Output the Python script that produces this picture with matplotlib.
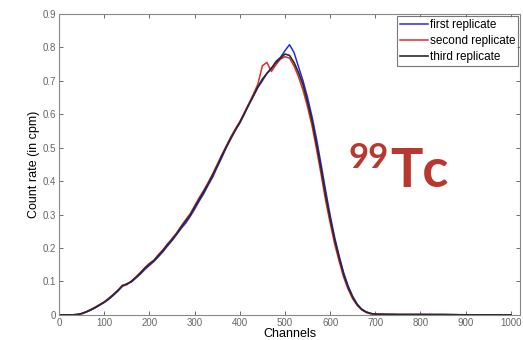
import matplotlib.pyplot as plt
import numpy as np

# channel positions and count rates (cpm)
channels = [0, 10, 20, 30, 40, 50, 60, 70, 80, 90,
            100, 110, 120, 130, 140, 150, 160, 170, 180, 190,
            200, 210, 220, 230, 240, 250, 260, 270, 280, 290,
            300, 310, 320, 330, 340, 350, 360, 370, 380, 390,
            400, 410, 420, 430, 440, 450, 460, 470, 480, 490,
            500, 510, 520, 530, 540, 550, 560, 570, 580, 590,
            600, 610, 620, 630, 640, 650, 660, 670, 680, 690,
            700, 750, 800, 850, 900, 950, 1000]

first_rep = [0, 0, 0, 0, 0.001, 0.003, 0.008, 0.014, 0.021, 0.029,
             0.037, 0.047, 0.058, 0.071, 0.085, 0.093, 0.098, 0.110, 0.122, 0.136,
             0.148, 0.160, 0.174, 0.189, 0.206, 0.222, 0.240, 0.258, 0.274, 0.294,
             0.316, 0.340, 0.362, 0.388, 0.412, 0.442, 0.470, 0.500, 0.526, 0.552,
             0.574, 0.600, 0.630, 0.654, 0.680, 0.700, 0.722, 0.736, 0.758, 0.770,
             0.790, 0.808, 0.785, 0.742, 0.700, 0.650, 0.592, 0.525, 0.450, 0.372,
             0.298, 0.232, 0.176, 0.126, 0.086, 0.055, 0.032, 0.017, 0.009, 0.004,
             0.002, 0.001, 0.001, 0.001, 0, 0, 0]

second_rep = [0, 0, 0, 0, 0.001, 0.004, 0.009, 0.016, 0.023, 0.031,
              0.039, 0.050, 0.061, 0.074, 0.086, 0.090, 0.101, 0.113, 0.127, 0.141,
              0.154, 0.164, 0.180, 0.195, 0.212, 0.228, 0.245, 0.265, 0.284, 0.302,
              0.326, 0.350, 0.372, 0.396, 0.422, 0.450, 0.478, 0.505, 0.532, 0.556,
              0.578, 0.605, 0.632, 0.660, 0.690, 0.745, 0.755, 0.728, 0.748, 0.765,
              0.772, 0.768, 0.745, 0.712, 0.672, 0.622, 0.565, 0.495, 0.420, 0.342,
              0.275, 0.212, 0.160, 0.112, 0.076, 0.048, 0.028, 0.015, 0.007, 0.003,
              0.002, 0.001, 0.001, 0, 0, 0, 0]

third_rep = [0, 0, 0, 0, 0.001, 0.004, 0.009, 0.015, 0.022, 0.030,
             0.038, 0.048, 0.060, 0.072, 0.088, 0.092, 0.100, 0.112, 0.125, 0.140,
             0.152, 0.162, 0.178, 0.192, 0.210, 0.225, 0.242, 0.262, 0.280, 0.298,
             0.322, 0.345, 0.368, 0.392, 0.418, 0.445, 0.475, 0.502, 0.528, 0.552,
             0.575, 0.602, 0.628, 0.655, 0.682, 0.705, 0.722, 0.738, 0.755, 0.768,
             0.780, 0.776, 0.755, 0.725, 0.688, 0.636, 0.580, 0.510, 0.436, 0.358,
             0.288, 0.224, 0.170, 0.120, 0.082, 0.052, 0.030, 0.016, 0.008, 0.004,
             0.002, 0.001, 0.001, 0.001, 0, 0, 0]

plt.rcParams['font.family'] = ['Liberation Sans', 'DejaVu Sans']

fig = plt.figure(figsize=(5.23, 3.40), dpi=100)
ax = fig.add_axes([0.113, 0.074, 0.881, 0.885])

ax.plot(channels, first_rep, color='#2a2ae0', lw=1.1, label='first replicate')
ax.plot(channels, second_rep, color='#e02a2a', lw=1.1, label='second replicate')
ax.plot(channels, third_rep, color='#2a2a2a', lw=1.2, label='third replicate')

ax.set_xlim(0, 1020)
ax.set_ylim(0, 0.9)
ax.set_xticks(np.arange(0, 1001, 100))
ax.set_yticks(np.arange(0, 0.91, 0.1))
ax.set_yticklabels(['0'] + ['%.1f' % v for v in np.arange(0.1, 0.91, 0.1)])
ax.tick_params(direction='in', top=True, right=True, length=3, width=0.6,
               labelsize=7, colors='#555555', labelcolor='#666666', pad=2)
for s in ax.spines.values():
    s.set_color('#888888')
    s.set_linewidth(0.8)

ax.set_xlabel('Channels', fontsize=9, labelpad=0)
ax.set_ylabel('Count rate (in cpm)', fontsize=9, labelpad=2)

leg = ax.legend(loc='upper right', fontsize=8.5, frameon=True, fancybox=False,
                borderaxespad=0.15, handlelength=2.4, handletextpad=0.1,
                labelspacing=0.35, borderpad=0.25)
leg.get_frame().set_edgecolor('#555555')
leg.get_frame().set_linewidth(0.8)

fig.text(348 / 523, 1 - 168 / 340, '99', fontsize=25, fontweight='bold',
         color='#b8372e', family='Lato', va='baseline', ha='left')
fig.text(390 / 523, 1 - 187 / 340, 'Tc', fontsize=39, fontweight='bold',
         color='#b8372e', family='Lato', va='baseline', ha='left')

fig.savefig('out.png', dpi=100)
